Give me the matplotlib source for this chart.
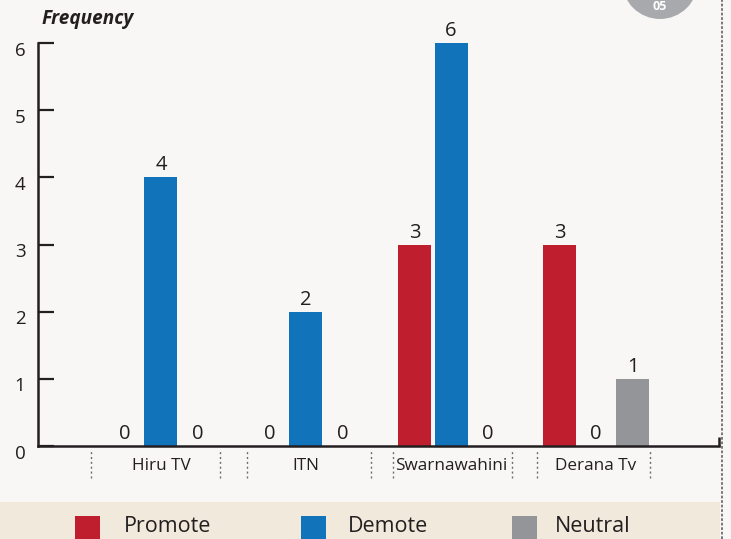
import matplotlib
matplotlib.use("Agg")
import matplotlib.pyplot as plt
import matplotlib.transforms as mtransforms
import numpy as np
from matplotlib.patches import Rectangle, Ellipse
from matplotlib.lines import Line2D

categories = ["Hiru TV", "ITN", "Swarnawahini", "Derana Tv"]
series_names = ["Promote", "Demote", "Neutral"]
promote = [0, 0, 3, 3]
demote = [4, 2, 6, 0]
neutral = [0, 0, 0, 1]
y_ticks = [0, 1, 2, 3, 4, 5, 6]

colors = ["#be1e2d", "#1174bb", "#939598"]
BG = "#f8f7f5"
BAND = "#f1e9db"
INK = "#231f20"

plt.rcParams['font.family'] = ['Open Sans', 'DejaVu Sans']

W, H = 731, 539
fig = plt.figure(figsize=(W / 100, H / 100), dpi=100, facecolor=BG)

# legend band
fig.patches.append(Rectangle((0, 0), 720 / W, (H - 502) / H, transform=fig.transFigure,
                             facecolor=BAND, edgecolor='none', zorder=0))
# right dotted border
fig.add_artist(Line2D([722 / W, 722 / W], [0, 1], transform=fig.transFigure,
                      color="#6d6e71", lw=1.3, linestyle=(0, (1.5, 1.0))))
# page badge circle
r = 38
fig.patches.append(Ellipse((660 / W, 1 + 19 / H), 2 * r / W, 2 * r / H,
                           transform=fig.transFigure,
                           facecolor="#a7a9ac", edgecolor='none'))
fig.text(660 / W, 1 - 7 / H, "05", color="white", fontsize=9, fontweight='bold',
         ha='center', va='center')

ax = fig.add_axes([38 / W, 1 - 446 / H, (719 - 38) / W, (446 - 43) / H])
ax.set_facecolor('none')

x = np.arange(len(categories))
step = 36.5 / 145
width = 33 / 145
for i, (vals, c) in enumerate(zip([promote, demote, neutral], colors)):
    pos = x + (i - 1) * step
    ax.bar(pos, vals, width=width, color=c, zorder=2)
    for px, v in zip(pos, vals):
        ax.annotate(str(v), (px, v), xytext=(0, 5), textcoords='offset points',
                    ha='center', va='baseline', fontsize=14.5, color=INK)

ax.set_xlim(-0.848, 3.848)
ax.set_ylim(0, 6)

for s in ['top', 'right']:
    ax.spines[s].set_visible(False)
for s in ['left', 'bottom']:
    ax.spines[s].set_color(INK)
    ax.spines[s].set_linewidth(1.8)
    ax.spines[s].set_zorder(3)

ax.set_yticks(y_ticks)
ax.set_yticklabels([str(t) for t in y_ticks])
ax.tick_params(axis='y', direction='in', length=11.5, width=1.6, color=INK,
               pad=9, labelsize=13.5, labelcolor=INK)
shift = mtransforms.ScaledTranslation(0, -4 / 72, fig.dpi_scale_trans)
for lbl in ax.get_yticklabels():
    lbl.set_transform(lbl.get_transform() + shift)
ax.set_xticks(x)
ax.set_xticklabels(categories)
ax.tick_params(axis='x', length=0, pad=9, labelsize=12.3, labelcolor=INK)

# right end tick
ax.plot([1, 1], [0, 9 / 403], transform=ax.transAxes, color=INK, lw=1.8,
        clip_on=False, solid_capstyle='butt')

# dotted separators around category labels
sep_left = [-0.48, -0.41, -0.40, -0.41]
sep_right = [0.41, 0.45, 0.42, 0.37]
for xi, l, rr in zip(x, sep_left, sep_right):
    ax.vlines([xi + l, xi + rr], -0.476, -0.045, colors="#6d6e71", lw=1,
              linestyles=(0, (1.5, 2)), clip_on=False)

# axis title
fig.text(41 / W, 1 - 19 / H, "Frequency", fontsize=13.7, fontweight='bold',
         fontstyle='italic', color=INK, ha='left', va='center')

# legend
leg_sq = [75, 301, 512]
leg_tx = [124, 348, 555]
for name, c, sx, tx in zip(series_names, colors, leg_sq, leg_tx):
    fig.patches.append(Rectangle((sx / W, 0), 25 / W, (H - 516) / H,
                                 transform=fig.transFigure, facecolor=c,
                                 edgecolor='none'))
    fig.text(tx / W, 1 - 526 / H, name, fontsize=15.5, color=INK,
             ha='left', va='center')

fig.savefig("out.png", dpi=100, facecolor=BG)
